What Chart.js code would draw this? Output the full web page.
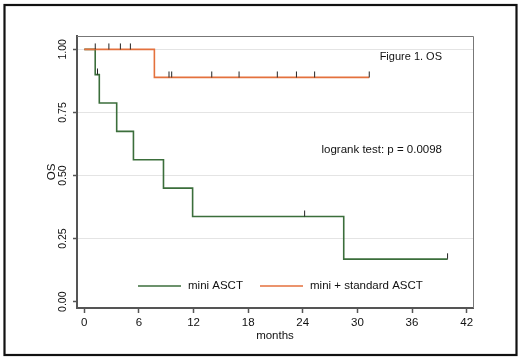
<!DOCTYPE html>
<html>
<head>
<meta charset="utf-8">
<script src="https://cdn.jsdelivr.net/npm/chart.js@4"></script>
<style>
html,body{margin:0;padding:0;background:#fff;}
#wrap{position:relative;width:520px;height:360px;}
</style>
</head>
<body>
<div id="wrap"><canvas id="c" width="520" height="360"></canvas></div>
<script>
// ---- data ----
const seriesNames = ['mini ASCT', 'mini + standard ASCT'];
const miniTimes = [0, 1.2, 1.65, 3.56, 5.4, 8.7, 11.9, 28.5, 39.9];
const miniSurv  = [1, 0.9, 0.7875, 0.675, 0.5625, 0.45, 0.3375, 0.16875, 0.16875];
const miniCensorTimes = [1.45, 24.2, 39.9];
const miniCensorSurv  = [0.9, 0.3375, 0.16875];
const stdTimes = [0, 7.7, 31.3];
const stdSurv  = [1, 0.889, 0.889];
const stdCensorTimes = [1.2, 2.7, 3.96, 5.06, 9.3, 9.6, 14.0, 17.0, 21.2, 23.3, 25.3, 31.3];
const stdCensorSurv  = [1, 1, 1, 1, 0.889, 0.889, 0.889, 0.889, 0.889, 0.889, 0.889, 0.889];
const xTickValues = [0, 6, 12, 18, 24, 30, 36, 42];
const yTickValues = [0, 0.25, 0.5, 0.75, 1];
const annotTitle = 'Figure 1. OS';
const annotTest = 'logrank test: p = 0.0098';
const xTitle = 'months';
const yTitle = 'OS';

const GREEN = '#3b6e3b';
const ORANGE = '#e4713d';
const FONT = "'Liberation Sans', Arial, sans-serif";

function pts(xs, ys){ return xs.map((x,i)=>({x:x, y:ys[i]})); }

// upward censor tick as a point image
function censorMark(color){
  const cv = document.createElement('canvas');
  cv.width = 3; cv.height = 13;
  const g = cv.getContext('2d');
  g.strokeStyle = color; g.lineWidth = 1;
  g.beginPath(); g.moveTo(1.5, 0.5); g.lineTo(1.5, 6.5); g.stroke();
  return cv;
}

const framePlugin = {
  id: 'frameAndText',
  beforeDraw(chart){
    const ctx = chart.ctx;
    ctx.save();
    ctx.fillStyle = '#fff';
    ctx.fillRect(0,0,chart.width,chart.height);
    ctx.strokeStyle = '#111'; ctx.lineWidth = 2.2;
    ctx.strokeRect(4.5, 5, 512, 350);
    ctx.restore();
  },
  afterDraw(chart){
    const ctx = chart.ctx, a = chart.chartArea;
    ctx.save();
    // top/right plot frame
    ctx.strokeStyle = '#777'; ctx.lineWidth = 1;
    ctx.beginPath();
    ctx.moveTo(a.left, a.top + 0.5); ctx.lineTo(a.right + 0.5, a.top + 0.5); ctx.lineTo(a.right + 0.5, a.bottom);
    ctx.stroke();
    // annotations
    ctx.fillStyle = '#111';
    ctx.font = '11px ' + FONT;
    ctx.textAlign = 'right'; ctx.textBaseline = 'middle';
    ctx.fillText(annotTitle, a.right - 31, a.top + 21);
    ctx.font = '11.5px ' + FONT;
    ctx.fillText(annotTest, a.right - 31, a.top + 114);
    // legend inside plot
    const ly = a.bottom - 22;
    const items = [
      {ds: chart.data.datasets[0], x0: a.left + 61},
      {ds: chart.data.datasets[1], x0: a.left + 183}
    ];
    ctx.textAlign = 'left';
    items.forEach(it=>{
      ctx.strokeStyle = it.ds.borderColor; ctx.lineWidth = 1.5;
      ctx.beginPath(); ctx.moveTo(it.x0, ly); ctx.lineTo(it.x0 + 43, ly); ctx.stroke();
      ctx.fillStyle = '#111';
      ctx.fillText(it.ds.label, it.x0 + 50, ly);
    });
    ctx.restore();
  }
};

new Chart(document.getElementById('c'), {
  type: 'scatter',
  data: {
    datasets: [
      { label: seriesNames[0], data: pts(miniTimes, miniSurv), showLine: true, stepped: true,
        borderColor: GREEN, backgroundColor: GREEN, borderWidth: 1.6, pointRadius: 0, order: 2 },
      { label: seriesNames[1], data: pts(stdTimes, stdSurv), showLine: true, stepped: true,
        borderColor: ORANGE, backgroundColor: ORANGE, borderWidth: 1.6, pointRadius: 0, order: 1 },
      { label: 'censor1', data: pts(miniCensorTimes, miniCensorSurv), showLine: false,
        pointStyle: censorMark('#222'), pointRadius: 5, order: 0 },
      { label: 'censor2', data: pts(stdCensorTimes, stdCensorSurv), showLine: false,
        pointStyle: censorMark('#222'), pointRadius: 5, order: 0 }
    ]
  },
  options: {
    responsive: false,
    animation: false,
    events: [],
    layout: { padding: { left: 20, right: 47, top: 36, bottom: 10 } },
    plugins: { legend: { display: false }, tooltip: { enabled: false }, title: { display: false } },
    scales: {
      x: {
        type: 'linear', min: -0.8, max: 42.7,
        afterBuildTicks: s => { s.ticks = xTickValues.map(v=>({value:v})); },
        afterFit: s => { s.height = 42; },
        ticks: { color: '#111', font: { family: FONT, size: 11.5 }, padding: 3, maxRotation: 0 },
        grid: { drawOnChartArea: false, drawTicks: true, tickLength: 5, tickColor: '#555', tickWidth: 1.5 },
        border: { color: '#555', width: 2 },
        title: { display: true, text: xTitle, color: '#111', font: { family: FONT, size: 11.5 }, padding: { top: 0, bottom: 7 } }
      },
      y: {
        type: 'linear', min: -0.025, max: 1.053,
        afterBuildTicks: s => { s.ticks = yTickValues.map(v=>({value:v})); },
        afterFit: s => { s.width = 57; },
        ticks: { color: '#111', font: { family: FONT, size: 10.5 }, padding: 0, minRotation: 90, maxRotation: 90,
                 crossAlign: 'center', callback: v => v.toFixed(2) },
        grid: { drawTicks: true, tickLength: 4, tickColor: '#555', tickWidth: 1.5,
                color: ctx => (ctx.tick && ctx.tick.value === 0) ? 'rgba(0,0,0,0)' : '#e4e4e4', lineWidth: 1 },
        border: { color: '#555', width: 2 },
        title: { display: true, text: yTitle, color: '#111', font: { family: FONT, size: 11.5 }, padding: { top: 25, bottom: 0 } }
      }
    }
  },
  plugins: [framePlugin]
});
</script>
</body>
</html>
